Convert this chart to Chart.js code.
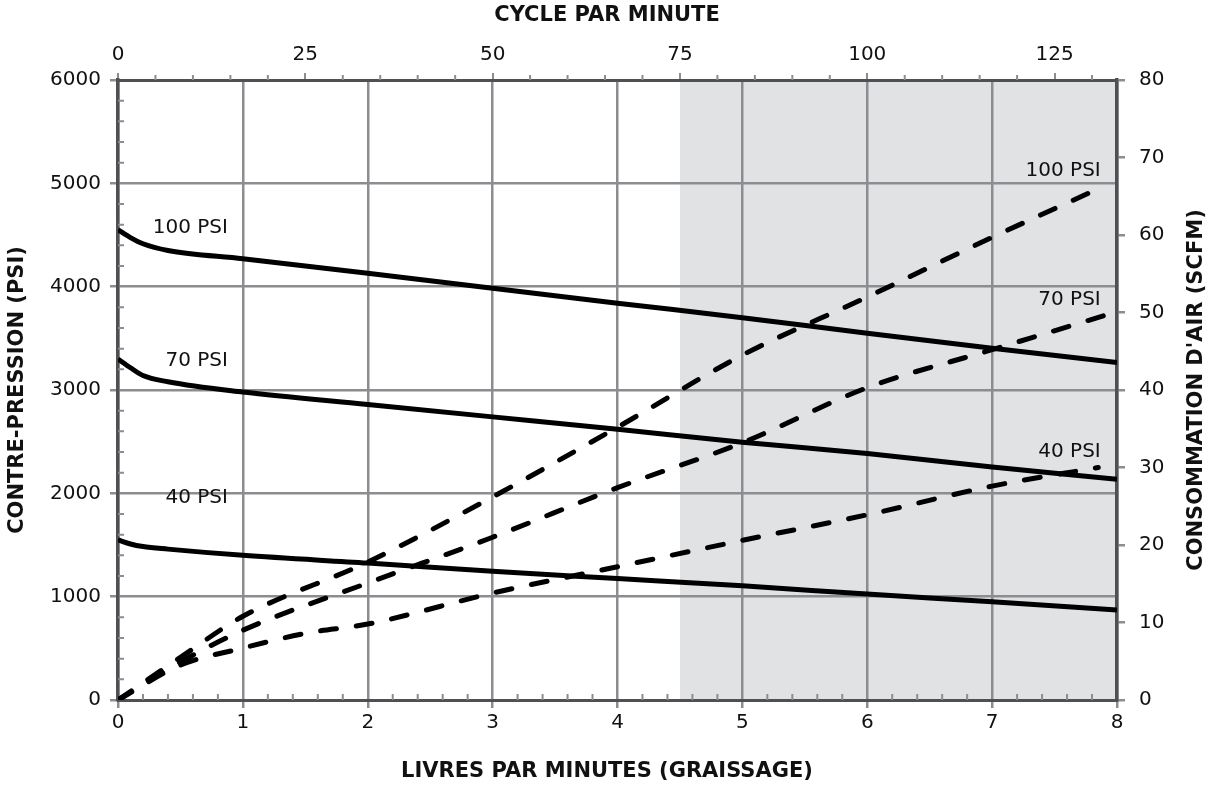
<!DOCTYPE html>
<html>
<head>
<meta charset="utf-8">
<script src="https://cdn.jsdelivr.net/npm/chart.js@4.4.1/dist/chart.umd.min.js"></script>
<style>
  html, body { margin: 0; padding: 0; background: #fff; }
  #wrap { width: 1214px; height: 787px; position: relative; }
</style>
</head>
<body>
<div id="wrap"><canvas id="chart"></canvas></div>
<script>
// ===== DATA =====
// back pressure (left axis, PSI) vs lbs/min
const backX   = [0, 0.1, 0.2, 0.4, 1, 2, 3, 4, 5, 6, 7, 8];
const back100 = [4550, 4475, 4415, 4350, 4270, 4130, 3985, 3840, 3700, 3550, 3405, 3265];
const back70  = [3300, 3215, 3140, 3080, 2980, 2860, 2740, 2620, 2495, 2385, 2255, 2135];
const back40  = [1550, 1510, 1485, 1460, 1400, 1325, 1245, 1175, 1105, 1025, 950, 870];

// air consumption (right axis, SCFM) vs lbs/min
const air100X = [0, 0.5, 1, 2, 3, 4, 5, 6, 7, 7.8];
const air100  = [0, 5.5, 10.8, 17.8, 26.2, 35.2, 44.5, 52.0, 59.7, 65.6];
const air70X  = [0, 0.5, 1, 2, 3, 4, 5, 6, 7, 7.98];
const air70   = [0, 4.9, 9.0, 15.1, 21.0, 27.4, 33.2, 40.3, 45.2, 50.0];
const air40X  = [0, 0.5, 1, 1.5, 2, 3, 4, 5, 6, 7, 7.85];
const air40   = [0, 4.5, 6.7, 8.6, 9.8, 13.8, 17.2, 20.6, 23.9, 27.6, 30.0];

// text labels
const psiNames   = ['100 PSI', '70 PSI', '40 PSI'];
const leftLblX   = 0.88;                 // right edge of left labels (lbs/min)
const leftLblY   = [4570, 3285, 1961];   // PSI
const rightLblX  = 7.87;
const rightLblY  = [68.3, 51.6, 32.0];   // SCFM

// axes
const xMax = 8, yMax = 6000, y2Max = 80;
const cyclesPerLb = 50 / 3;              // 25 cycles = 1.5 lbs/min
const shadeFrom = 4.5;

const titleTop    = 'CYCLE PAR MINUTE';
const titleBottom = 'LIVRES PAR MINUTES (GRAISSAGE)';
const titleLeft   = 'CONTRE-PRESSION (PSI)';
const titleRight  = "CONSOMMATION D'AIR (SCFM)";

// ===== STYLE =====
const FONT = 'DejaVu Sans';
const gridCol = '#8c8c91';
const axisCol = '#505054';
const txtCol = '#111';

const pts = (xs, ys) => xs.map((x, i) => ({ x: x, y: ys[i] }));
const plain = v => String(v);

const solid = (data) => ({
  data: data, yAxisID: 'y', xAxisID: 'x',
  borderColor: '#000', borderWidth: 5, pointRadius: 0,
  cubicInterpolationMode: 'monotone', fill: false
});
const dashed = (data) => ({
  data: data, yAxisID: 'y2', xAxisID: 'x',
  borderColor: '#000', borderWidth: 5, pointRadius: 0, borderDash: [16, 20],
  borderCapStyle: 'round', cubicInterpolationMode: 'monotone', fill: false
});

// shaded zone behind grid
const shadePlugin = {
  id: 'shade',
  beforeDraw(chart) {
    const { ctx, chartArea: a, scales } = chart;
    const x0 = scales.x.getPixelForValue(shadeFrom);
    const x1 = scales.x.getPixelForValue(xMax);
    ctx.save();
    ctx.fillStyle = '#e1e2e4';
    ctx.fillRect(x0, a.top, x1 - x0, a.bottom - a.top);
    ctx.restore();
  }
};

// minor ticks on left, bottom and top axes
const minorPlugin = {
  id: 'minor',
  beforeDatasetsDraw(chart) {
    const { ctx, chartArea: a, scales } = chart;
    ctx.save();
    ctx.strokeStyle = gridCol;
    ctx.lineWidth = 2;
    ctx.beginPath();
    for (let v = 200; v < yMax; v += 200) {
      if (v % 1000 === 0) continue;
      const py = scales.y.getPixelForValue(v);
      ctx.moveTo(a.left, py); ctx.lineTo(a.left + 6, py);
    }
    for (let i = 1; i < xMax * 5; i++) {
      if (i % 5 === 0) continue;
      const px = scales.x.getPixelForValue(i / 5);
      ctx.moveTo(px, a.bottom); ctx.lineTo(px, a.bottom - 6);
    }
    for (let v = 5; v < xMax * cyclesPerLb; v += 5) {
      if (v % 25 === 0) continue;
      const px = scales.x2.getPixelForValue(v);
      ctx.moveTo(px, a.top); ctx.lineTo(px, a.top - 5);
    }
    ctx.stroke();
    ctx.restore();
  }
};

// PSI labels and axis titles
const textPlugin = {
  id: 'texts',
  afterDraw(chart) {
    const { ctx, chartArea: a, scales } = chart;
    ctx.save();
    ctx.fillStyle = txtCol;
    ctx.font = '20px "' + FONT + '"';
    ctx.textAlign = 'right';
    ctx.textBaseline = 'middle';
    psiNames.forEach((n, i) => {
      ctx.fillText(n, scales.x.getPixelForValue(leftLblX), scales.y.getPixelForValue(leftLblY[i]));
      ctx.fillText(n, scales.x.getPixelForValue(rightLblX), scales.y2.getPixelForValue(rightLblY[i]));
    });

    ctx.font = 'bold 21px "' + FONT + '"';
    ctx.textAlign = 'center';
    const cx = chart.width / 2;
    const cy = (a.top + a.bottom) / 2;
    ctx.fillText(titleTop, cx, a.top - 64);
    ctx.fillText(titleBottom, cx, a.bottom + 72);
    ctx.save();
    ctx.translate(a.left - 100, cy);
    ctx.rotate(-Math.PI / 2);
    ctx.fillText(titleLeft, 0, 0);
    ctx.restore();
    ctx.save();
    ctx.translate(a.right + 80, cy);
    ctx.rotate(-Math.PI / 2);
    ctx.fillText(titleRight, 0, 0);
    ctx.restore();
    ctx.restore();
  }
};

Chart.defaults.font.family = FONT;
Chart.defaults.color = txtCol;

new Chart(document.getElementById('chart'), {
  type: 'line',
  data: {
    datasets: [
      solid(pts(backX, back100)),
      solid(pts(backX, back70)),
      solid(pts(backX, back40)),
      dashed(pts(air100X, air100)),
      dashed(pts(air70X, air70)),
      dashed(pts(air40X, air40))
    ]
  },
  options: {
    responsive: true, maintainAspectRatio: false, animation: false,
    layout: { padding: { left: 38, right: 37, top: 30, bottom: 47 } },
    plugins: { legend: { display: false }, tooltip: { enabled: false } },
    scales: {
      x: {
        type: 'linear', position: 'bottom', min: 0, max: xMax,
        ticks: { stepSize: 1, font: { size: 20 }, color: txtCol, padding: 3, callback: plain },
        grid: { color: gridCol, lineWidth: 2.5, tickLength: 8 },
        border: { color: axisCol, width: 3 },
        afterFit: s => { s.height = 40; }
      },
      x2: {
        type: 'linear', position: 'top', min: 0, max: xMax * cyclesPerLb,
        ticks: { stepSize: 25, includeBounds: false, font: { size: 20 }, color: txtCol, padding: 6, callback: plain },
        grid: { drawOnChartArea: false, color: gridCol, lineWidth: 2, tickLength: 7 },
        border: { color: axisCol, width: 3 },
        afterFit: s => { s.height = 50; }
      },
      y: {
        position: 'left', min: 0, max: yMax,
        ticks: { stepSize: 1000, font: { size: 20 }, color: txtCol, padding: 9, callback: plain },
        grid: { color: gridCol, lineWidth: 2.5, tickLength: 8 },
        border: { color: axisCol, width: 3.5 },
        afterFit: s => { s.width = 80; }
      },
      y2: {
        position: 'right', min: 0, max: y2Max,
        ticks: { stepSize: 10, font: { size: 20 }, color: txtCol, padding: 14, callback: plain },
        grid: { drawOnChartArea: false, color: gridCol, lineWidth: 2.5, tickLength: 8 },
        border: { color: axisCol, width: 3.5 },
        afterFit: s => { s.width = 60; }
      }
    }
  },
  plugins: [shadePlugin, minorPlugin, textPlugin]
});
</script>
</body>
</html>
